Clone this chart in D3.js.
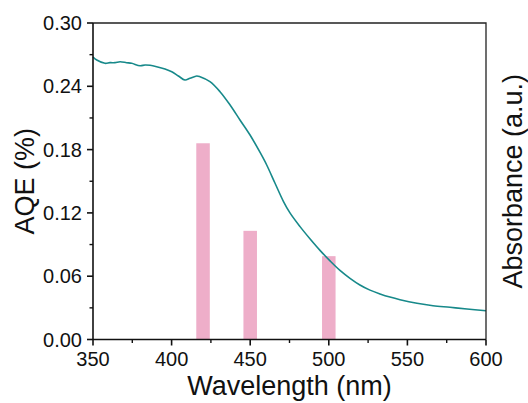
<!DOCTYPE html>
<html lang="en">
<head>
    <meta charset="UTF-8">
    <title>AQE and absorbance</title>
    <script src="https://d3js.org/d3.v7.min.js"></script>
    <style>
        body { margin: 0; background: #fff; }
        text { font-family: "Liberation Sans", Arial, sans-serif; fill: #111; }
        .tick-label { font-size: 20px; }
        .title { font-size: 27px; }
    </style>
</head>
<body>
    <script>
        // AQE bars (%)
        const barWavelengths = [420, 450, 500];
        const aqeValues = [0.186, 0.103, 0.079];

        // absorbance spectrum (a.u., drawn on the hidden right scale)
        const absWavelengths = [350, 352.4, 357.6, 360.8, 364, 367.2, 371.4, 374.6, 379.9, 383.1, 386.3, 390.5,
            395.8, 400.1, 404.3, 408.5, 411.7, 416, 418.1, 424.4, 430.8, 437.2, 443.5, 449.9, 456.2, 460.5,
            465.8, 471.1, 475.3, 481.7, 488, 494.4, 500.8, 507.1, 513.5, 519.8, 526.2, 532.6, 538.9, 545.3,
            556.1, 566.3, 577.1, 587.9, 600];
        const absValues = [0.2678, 0.2649, 0.2618, 0.2624, 0.2624, 0.2633, 0.2624, 0.2618, 0.2595, 0.2602, 0.2599, 0.2586,
            0.2564, 0.2538, 0.2498, 0.246, 0.2476, 0.2498, 0.2491, 0.2444, 0.2349, 0.2223, 0.2081, 0.1938, 0.1775, 0.1654,
            0.1481, 0.131, 0.12, 0.107, 0.0955, 0.0845, 0.0745, 0.0655, 0.058, 0.0517, 0.0468, 0.0432, 0.0402, 0.0377,
            0.0343, 0.032, 0.0305, 0.0289, 0.0273];

        const xTicks = [350, 400, 450, 500, 550, 600];
        const yTicks = [0, 0.06, 0.12, 0.18, 0.24, 0.30];

        const width = 528, height = 403;
        const plotLeft = 93, plotTop = 23, plotRight = 486, plotBottom = 339.5;
        const barWidth = 8.6; // nm

        const svg = d3.select("body").append("svg")
            .attr("width", width)
            .attr("height", height);

        const x = d3.scaleLinear().domain([350, 600]).range([plotLeft, plotRight]);
        const y = d3.scaleLinear().domain([0, 0.30]).range([plotBottom, plotTop]);
        const yAbs = d3.scaleLinear().domain([0, 0.30]).range([plotBottom, plotTop]);

        // bars
        svg.selectAll(".bar")
            .data(barWavelengths)
            .enter().append("rect")
            .attr("class", "bar")
            .attr("x", d => x(d - barWidth / 2))
            .attr("width", d => x(d + barWidth / 2) - x(d - barWidth / 2))
            .attr("y", (d, i) => y(aqeValues[i]))
            .attr("height", (d, i) => y(0) - y(aqeValues[i]))
            .attr("fill", "#eeaec9");

        // absorbance line
        const line = d3.line()
            .x((d, i) => x(absWavelengths[i]))
            .y(d => yAbs(d))
            .curve(d3.curveCatmullRom);

        svg.append("path")
            .datum(absValues)
            .attr("d", line)
            .attr("fill", "none")
            .attr("stroke", "#17898a")
            .attr("stroke-width", 1.6);

        // frame (top and right)
        svg.append("path")
            .attr("d", `M${plotLeft},${plotTop}H${plotRight}V${plotBottom}`)
            .attr("fill", "none")
            .attr("stroke", "#222")
            .attr("stroke-width", 1.3);

        // x axis
        const xMinor = d3.range(375, 600, 50);
        const xAxis = svg.append("g").attr("transform", `translate(0,${plotBottom})`);
        xAxis.append("line").attr("x1", plotLeft).attr("x2", plotRight).attr("stroke", "#111").attr("stroke-width", 1.6);
        xAxis.selectAll(".major").data(xTicks).enter().append("line")
            .attr("x1", d => x(d)).attr("x2", d => x(d)).attr("y1", 0).attr("y2", 6)
            .attr("stroke", "#111").attr("stroke-width", 1.6);
        xAxis.selectAll(".minor").data(xMinor).enter().append("line")
            .attr("x1", d => x(d)).attr("x2", d => x(d)).attr("y1", 0).attr("y2", 3.5)
            .attr("stroke", "#111").attr("stroke-width", 1.4);
        xAxis.selectAll(".tick-label").data(xTicks).enter().append("text")
            .attr("class", "tick-label")
            .attr("x", d => x(d)).attr("y", 26)
            .attr("text-anchor", "middle")
            .text(d => d);

        // y axis
        const yMinor = [0.03, 0.09, 0.15, 0.21, 0.27];
        const yAxis = svg.append("g").attr("transform", `translate(${plotLeft},0)`);
        yAxis.append("line").attr("y1", plotTop).attr("y2", plotBottom).attr("stroke", "#111").attr("stroke-width", 1.6);
        yAxis.selectAll(".major").data(yTicks).enter().append("line")
            .attr("y1", d => y(d)).attr("y2", d => y(d)).attr("x1", 0).attr("x2", -6)
            .attr("stroke", "#111").attr("stroke-width", 1.6);
        yAxis.selectAll(".minor").data(yMinor).enter().append("line")
            .attr("y1", d => y(d)).attr("y2", d => y(d)).attr("x1", 0).attr("x2", -3.5)
            .attr("stroke", "#111").attr("stroke-width", 1.4);
        yAxis.selectAll(".tick-label").data(yTicks).enter().append("text")
            .attr("class", "tick-label")
            .attr("x", -11).attr("y", d => y(d))
            .attr("dy", "0.35em")
            .attr("text-anchor", "end")
            .text(d => d3.format(".2f")(d));

        // titles
        svg.append("text").attr("class", "title")
            .attr("x", (plotLeft + plotRight) / 2).attr("y", 395)
            .attr("text-anchor", "middle")
            .text("Wavelength (nm)");

        svg.append("text").attr("class", "title")
            .attr("transform", `translate(34,${(plotTop + plotBottom) / 2}) rotate(-90)`)
            .attr("text-anchor", "middle")
            .text("AQE (%)");

        svg.append("text").attr("class", "title")
            .attr("transform", `translate(522,${(plotTop + plotBottom) / 2}) rotate(-90)`)
            .attr("text-anchor", "middle")
            .text("Absorbance (a.u.)");
    </script>
</body>
</html>
